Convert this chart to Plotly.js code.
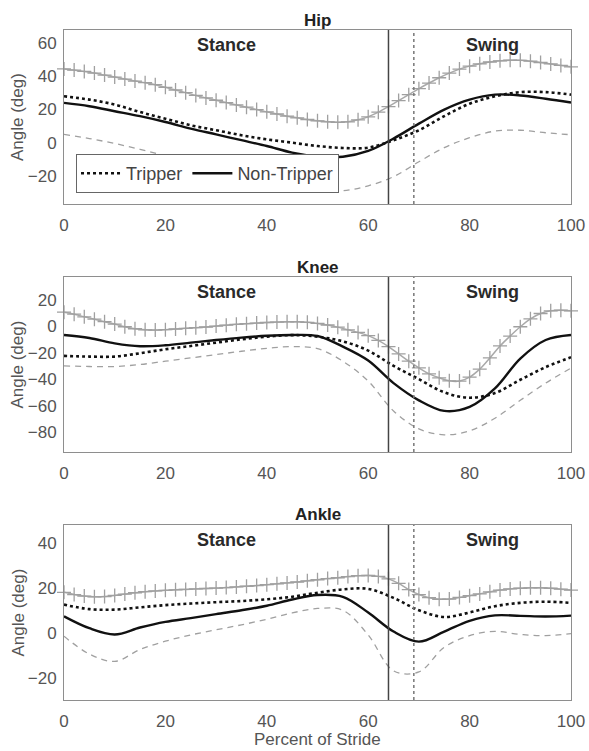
<!DOCTYPE html>
<html>
<head>
<meta charset="utf-8">
<script src="https://cdn.plot.ly/plotly-3.0.1.min.js"></script>
<style>html,body{margin:0;padding:0;background:#fff;}#chart{width:589px;height:751px;}</style>
</head>
<body>
<div id="chart"></div>
<script>
// ---- Data ----
const xPct = [0,5,10,15,20,25,30,35,40,45,50,55,60,65,70,75,80,85,90,95,100];
const xPctFine = [0,2,4,6,8,10,12,14,16,18,20,22,24,26,28,30,32,34,36,38,40,42,44,46,48,50,52,54,56,58,60,62,64,66,68,70,72,74,76,78,80,82,84,86,88,90,92,94,96,98,100];

const hipTripper    = [28,26,23,18.5,14.5,10.5,7.5,4.5,2,0,-2,-3.2,-3,1.5,7.5,16,23.5,28,30.5,30.5,29];
const hipNonTripper = [24,22,19,16,12.5,8.5,5,1.5,-2,-6,-8.3,-8.5,-5,2.5,11.5,20,26,29,28.5,26.5,24.2];
const hipLower      = [5,2.5,-0.5,-4,-8,-12,-15.5,-19,-22.5,-26.5,-29,-29,-26,-20.5,-11.5,-3,3,7,7.5,6,4.8];
const hipUpper      = [44.5,43.8,43,42,40.8,39.6,38.4,37.2,36.2,35,33.4,31.8,30.2,28.5,27,25.6,24.2,22.8,21.4,20,18.6,17.3,16,15,14,13.2,12.6,12.3,12.6,13.8,15.6,18.4,21.8,25.4,29,32.6,36,39.2,42,44.4,46.2,47.6,48.7,49.4,49.8,49.7,49.2,48.4,47.5,46.6,45.8];

const kneeTripper    = [-22.5,-23,-23,-20.5,-17.5,-15,-12.5,-10,-8,-6.8,-8,-11.5,-18.5,-30,-40,-50,-54,-50.5,-40.5,-31,-23.5];
const kneeNonTripper = [-6.7,-9,-13,-15.2,-14.5,-12.5,-10.5,-8.7,-7.3,-6.7,-7.5,-15.5,-26,-43,-56,-64,-61,-47,-24.5,-10.5,-6.7];
const kneeLower      = [-30,-30.5,-30.5,-29,-26.5,-24,-21.5,-19,-16.8,-15.5,-17,-26.5,-41.5,-64,-77.5,-82,-79,-69.5,-56,-43,-31.7];
const kneeUpper      = [10.5,9,7,5.2,3.3,1.5,-0.5,-2,-2.8,-3,-2.7,-2.2,-1.7,-1.2,-0.7,0,0.7,1.3,1.8,2.3,2.7,3,3.2,3.2,2.8,2,0.8,-0.8,-2.8,-4.8,-7.2,-10.8,-15.5,-21,-26.5,-31.5,-36,-39,-41.3,-41.5,-38.5,-32.5,-24,-15,-7.5,-0.5,5.5,9.5,11.5,12,11.5];

const ankleTripper    = [12.5,10.5,10.3,11.3,12.3,13,13.6,14.1,14.9,16,17.8,19.3,19.5,15.5,10,7,9,11.8,13.3,13.8,13.3];
const ankleNonTripper = [7.3,2,-0.8,2.3,4.8,6.5,8.3,10,12,14.8,16.8,16,9,0.5,-4,0.5,5.3,7.7,7.5,7.2,7.6];
const ankleLower      = [-1.6,-9.5,-12.8,-7.5,-3.8,-1,1.3,3.5,6,8.8,10.8,10,-1,-17,-17.5,-6.5,-1.3,0.6,-0.8,-1.3,-0.4];
const ankleUpper      = [18,17,16.3,16,16.1,16.6,17.2,17.8,18.3,18.6,18.9,19.1,19.3,19.5,19.7,19.9,20.1,20.4,20.7,21,21.4,21.8,22.2,22.6,23.1,23.6,24.1,24.5,25,25.4,25.5,25.1,24,22,19.2,17,15.6,14.9,15,15.7,16.5,17.3,18.2,19,19.5,19.8,20,20,19.8,19.4,19];

const panelNames = ['Hip','Knee','Ankle'];
const phaseLabels = ['Stance','Swing'];
const phaseLabelX = [32,84.6];
const toeOffNonTripper = 64;
const toeOffTripper = 69;
const xTicks = [0,20,40,60,80,100];
const hipTicks = [-20,0,20,40,60];
const kneeTicks = [-80,-60,-40,-20,0,20];
const ankleTicks = [-20,0,20,40];
const hipRange = [-37,68];
const kneeRange = [-95,37];
const ankleRange = [-30,48];

// ---- Build traces ----
const panels = [
  {tr: hipTripper, nt: hipNonTripper, lo: hipLower, up: hipUpper},
  {tr: kneeTripper, nt: kneeNonTripper, lo: kneeLower, up: kneeUpper},
  {tr: ankleTripper, nt: ankleNonTripper, lo: ankleLower, up: ankleUpper}
];
const traces = [];
panels.forEach((p, i) => {
  const xa = i === 0 ? 'x' : 'x' + (i + 1);
  const ya = i === 0 ? 'y' : 'y' + (i + 1);
  traces.push({x: xPctFine, y: p.up, xaxis: xa, yaxis: ya, type: 'scatter', mode: 'lines+markers',
    line: {color: '#a9a9a9', width: 1.5, shape: 'spline'},
    marker: {symbol: 'cross-thin', size: 10, line: {width: 1.3, color: '#a0a0a0'}},
    cliponaxis: false, showlegend: false, hoverinfo: 'skip'});
  traces.push({x: xPct, y: p.lo, xaxis: xa, yaxis: ya, type: 'scatter', mode: 'lines',
    line: {color: '#a0a0a0', width: 1.3, dash: '6px,5px', shape: 'spline'},
    showlegend: false, hoverinfo: 'skip'});
  traces.push({x: xPct, y: p.tr, xaxis: xa, yaxis: ya, type: 'scatter', mode: 'lines',
    name: 'Tripper', legendgroup: 'tr', showlegend: i === 0,
    line: {color: '#111', width: 2.6, dash: 'dot', shape: 'spline'}});
  traces.push({x: xPct, y: p.nt, xaxis: xa, yaxis: ya, type: 'scatter', mode: 'lines',
    name: 'Non-Tripper', legendgroup: 'nt', showlegend: i === 0,
    line: {color: '#111', width: 2.4, shape: 'spline'}});
});

// ---- Layout ----
const axisCommon = {showline: true, mirror: true, linecolor: '#8e8e8e', linewidth: 1,
  ticks: '', showgrid: false, zeroline: false, tickfont: {size: 17, color: '#555'}};
const domains = [[0.7403, 1], [0.3701, 0.6313], [0, 0.2612]];
const ranges = [hipRange, kneeRange, ankleRange];
const ticks = [hipTicks, kneeTicks, ankleTicks];
const layout = {
  width: 589, height: 751,
  margin: {l: 64, r: 18, t: 30, b: 51},
  paper_bgcolor: '#fff', plot_bgcolor: '#fff',
  font: {family: 'Liberation Sans, Arial, sans-serif', color: '#555'},
  showlegend: true,
  legend: {orientation: 'h', x: 0.0237, xanchor: 'left', y: 0.7567, yanchor: 'bottom',
    bgcolor: '#fff', bordercolor: '#666', borderwidth: 1,
    font: {size: 18, color: '#444'}, tracegroupgap: 0, itemwidth: 40},
  shapes: [], annotations: []
};
for (let i = 0; i < 3; i++) {
  const sfx = i === 0 ? '' : String(i + 1);
  const ya = 'y' + sfx, xa = 'x' + sfx;
  layout['xaxis' + sfx] = Object.assign({}, axisCommon, {anchor: ya, domain: [0, 1], range: [0, 100],
    tickvals: xTicks, ticklabelstandoff: 6});
  layout['yaxis' + sfx] = Object.assign({}, axisCommon, {anchor: xa, domain: domains[i], range: ranges[i],
    tickvals: ticks[i], ticklabelstandoff: 3});
  layout.shapes.push({type: 'line', xref: xa, yref: ya + ' domain', x0: toeOffNonTripper, x1: toeOffNonTripper, y0: 0, y1: 1,
    line: {color: '#444', width: 1.5}});
  layout.shapes.push({type: 'line', xref: xa, yref: ya + ' domain', x0: toeOffTripper, x1: toeOffTripper, y0: 0, y1: 1,
    line: {color: '#777', width: 1.5, dash: 'dot'}});
  layout.annotations.push({text: '<b>' + panelNames[i] + '</b>', xref: 'paper', yref: ya + ' domain', x: 0.5, y: 1,
    yanchor: 'middle', yshift: 10, showarrow: false, font: {size: 17, color: '#222'}});
  phaseLabels.forEach((lab, k) => {
    layout.annotations.push({text: '<b>' + lab + '</b>', xref: xa, yref: ya + ' domain', x: phaseLabelX[k], y: 1,
      yanchor: 'middle', yshift: -15, showarrow: false, font: {size: 18, color: '#2a2a2a'}});
  });
  layout.annotations.push({text: 'Angle (deg)', xref: 'paper', yref: ya + ' domain', x: -0.0907, y: 0.5,
    xanchor: 'center', yanchor: 'middle', textangle: -90, showarrow: false, font: {size: 17, color: '#555'}});
}
layout.annotations.push({text: 'Percent of Stride', xref: 'paper', yref: 'paper', x: 0.5, y: -0.0597,
  xanchor: 'center', yanchor: 'middle', showarrow: false, font: {size: 17, color: '#555'}});

Plotly.newPlot('chart', traces, layout, {displayModeBar: false, staticPlot: true});
</script>
</body>
</html>
